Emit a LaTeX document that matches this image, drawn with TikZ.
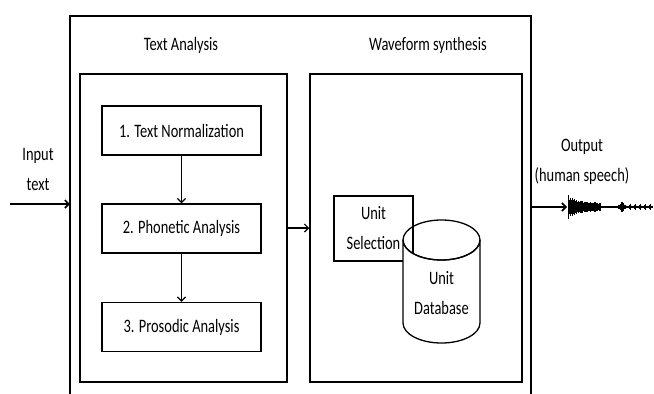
\documentclass[tikz,border=0pt]{standalone}
\usepackage{fontspec}
\setmainfont{Carlito}[FakeStretch=0.76]
\usetikzlibrary{arrows.meta}
\usetikzlibrary{positioning}
\newcommand{\dbcyl}[5] % name, x, y, rx, ry (y is the centre of the top ellipse)
{
	% body, white so that it hides what lies behind it
	\draw[line width=1.3pt, fill=white] (#2-#4,#3) -- (#2-#4,#3+83) arc (180:0:#4 and #5) -- (#2+#4,#3) arc (0:180:#4 and #5) -- cycle;
	% top face
	\draw[line width=1.3pt] (#2,#3) ellipse (#4 and #5);
	% anchor for the label
	\coordinate (#1) at (#2,#3+53);
}
\newcommand{\wave}[2] % start x, y
{
	\pgfmathsetseed{11}
	\draw[line width=1.2pt] (#1,#2) -- (#1+84,#2);
	\foreach \i in {0,0.5,...,84} {
		\pgfmathsetmacro{\amp}{1+(6*exp(-\i/4)+(\i<33)*7*exp(-\i/45))*(0.5+0.5*rnd)+4.5*exp(-((\i-54)^2)/6)*(0.6+0.4*rnd)+(\i>59)*2.2*exp(-((mod(\i,5)-2)^2)/0.6)}
		\draw[line width=1pt] (#1+\i,#2-\amp) -- (#1+\i,#2+\amp);
	}
}
\tikzset{
	every node/.style={font=\fontsize{19}{30}\selectfont, inner sep=0pt},
	procbox/.style={draw, line width=1.5pt, minimum width=159pt, minimum height=49pt},
	bigbox/.style={draw, line width=1.5pt, minimum height=308pt},
	flow/.style={line width=1.2pt, -{Straight Barb[length=4pt,width=8pt]}}
}

\begin{document}
\begin{tikzpicture}[x=1pt, y=-1pt]
	\useasboundingbox (0,0) rectangle (654,394);
	% outer frame, open at the bottom
	\draw[line width=1.5pt] (70,394) -- (70,16) -- (531,16) -- (531,394);
	\coordinate (frameW) at (70,204);
	\coordinate (frameE) at (531,207);
	
	\node (talbl) at (181,45) {Text Analysis};
	\node (wslbl) at (428,45) {Waveform synthesis};
	
	\node[bigbox, minimum width=207pt] (ta) at (183.5,228) {};
	\node[bigbox, minimum width=212pt] (ws) at (416,228) {};
	
	\node[procbox] (tn) at (181.5,130.5) {1. Text Normalization};
	\node[procbox] (pa) at (181.5,228.5) {2. Phonetic Analysis};
	\node[procbox] (pr) at (181.5,327) {3. Prosodic Analysis};
	\draw[flow] (tn) -- (pa);
	\draw[flow] (pa) -- (pr);
	\draw[flow] (ta) -- (ws);
	
	\node[draw, line width=1.5pt, minimum width=79pt, minimum height=65pt, align=center] (us) at (373.5,228.5) {Unit\\Selection};
	\dbcyl{dbc}{441.5}{240}{38.5}{20}
	\node[align=center] (db) at (dbc) {Unit\\Database};
	
	% input
	\node[align=center] (in) at (38,169) {Input\\text};
	\coordinate (inS) at (10,204);
	\draw[flow, line width=1.6pt] (inS) -- (frameW);
	
	% output
	\node[align=center] (out) at (582,162) {Output\\(human speech)};
	\coordinate (waveS) at (567,207);
	\draw[flow, line width=1.6pt] (frameE) -- (waveS);
	\wave{568}{207}
\end{tikzpicture}
\end{document}
